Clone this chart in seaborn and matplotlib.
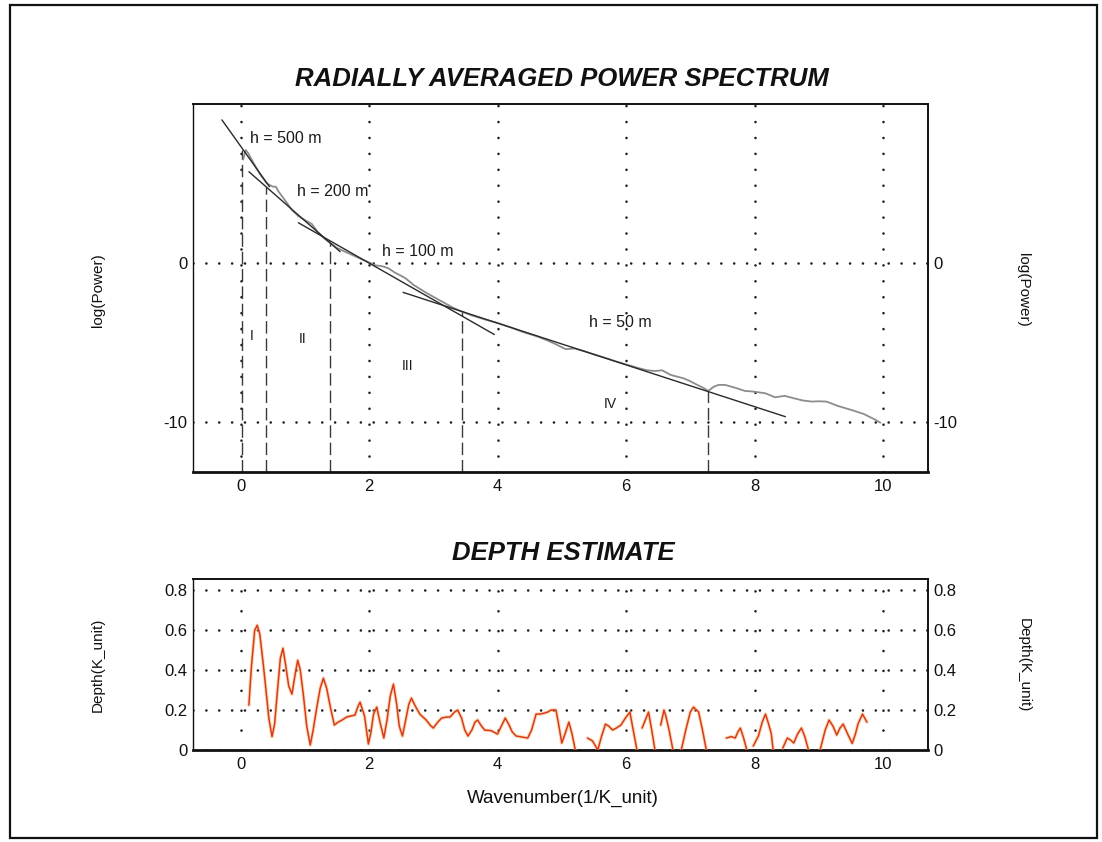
import numpy as np
import pandas as pd
import matplotlib
matplotlib.use("Agg")
import matplotlib.pyplot as plt
import seaborn as sns
from matplotlib.patches import Rectangle
from matplotlib.ticker import FixedLocator, FixedFormatter

# ---------------- data ----------------
# radially averaged power spectrum (wavenumber, log power)
spec_k = [0.04, 0.08, 0.12, 0.20, 0.30, 0.41, 0.50, 0.55, 0.59, 0.70, 0.80, 0.90, 1.00,
          1.11, 1.20, 1.30, 1.40, 1.50, 1.68, 1.85, 1.99, 2.10, 2.20, 2.30, 2.40, 2.56,
          2.70, 2.90, 3.10, 3.30, 3.44, 3.60, 3.80, 4.00, 4.20, 4.40, 4.60, 4.78, 4.90,
          5.06, 5.20, 5.35, 5.50, 5.70, 5.85, 6.00, 6.20, 6.33, 6.45, 6.56, 6.70, 6.89,
          6.98, 7.10, 7.20, 7.28, 7.36, 7.44, 7.54, 7.70, 7.85, 7.98, 8.17, 8.32, 8.47,
          8.60, 8.75, 8.89, 9.00, 9.12, 9.30, 9.51, 9.70, 9.85, 9.96]
spec_p = [6.5, 7.1, 6.9, 6.3, 5.6, 5.0, 4.8, 4.8, 4.5, 3.9, 3.33, 2.95, 2.7,
          2.45, 1.95, 1.55, 1.24, 0.95, 0.61, 0.3, 0.05, -0.15, -0.2, -0.33, -0.6, -0.94,
          -1.4, -1.9, -2.35, -2.8, -3.05, -3.3, -3.55, -3.78, -4.05, -4.35, -4.6, -4.88, -5.1,
          -5.42, -5.38, -5.55, -5.75, -6.0, -6.2, -6.38, -6.62, -6.75, -6.8, -6.75, -7.05, -7.25,
          -7.4, -7.65, -7.85, -8.05, -7.8, -7.67, -7.67, -7.85, -8.05, -8.09, -8.2, -8.45, -8.36,
          -8.5, -8.65, -8.72, -8.7, -8.72, -9.0, -9.25, -9.5, -9.8, -10.05]

# straight-line fits for each depth ensemble (end points)
fit_names = ["h = 500 m", "h = 200 m", "h = 100 m", "h = 50 m"]
fit_k0 = [-0.29, 0.13, 0.90, 2.53]
fit_p0 = [9.00, 5.74, 2.53, -1.85]
fit_k1 = [0.45, 1.55, 3.95, 8.48]
fit_p1 = [4.80, 0.71, -4.50, -9.67]
fit_label_k = [0.15, 0.875, 2.20, 5.42]
fit_label_p = [7.80, 4.50, 0.73, -3.75]

# segment boundaries (wavenumber, log power where they meet the spectrum)
bound_k = [0.03, 0.39, 1.40, 3.44, 7.28]
bound_p = [7.1, 4.75, 1.24, -3.05, -8.05]

# zone labels
zone_names = ["I", "II", "III", "IV"]
zone_k = [0.18, 0.96, 2.60, 5.75]
zone_p = [-4.6, -4.8, -6.5, -8.9]

# depth estimate, split into the pieces that are drawn
depth_segments = [
    ([0.13, 0.17, 0.22, 0.26, 0.30, 0.35, 0.39, 0.44, 0.49, 0.53, 0.57, 0.62, 0.66, 0.70,
      0.75, 0.80, 0.85, 0.89, 0.93, 0.98, 1.03, 1.085, 1.13, 1.19, 1.24, 1.29, 1.34, 1.395,
      1.46, 1.52, 1.58, 1.65, 1.71, 1.78, 1.83, 1.86, 1.90, 1.93, 1.99, 2.03, 2.07, 2.12,
      2.17, 2.23, 2.28, 2.33, 2.38, 2.43, 2.47, 2.52, 2.57, 2.62, 2.66, 2.72, 2.79, 2.89,
      2.95, 3.00, 3.07, 3.13, 3.20, 3.26, 3.33, 3.38, 3.44, 3.49, 3.54, 3.60, 3.65, 3.69,
      3.75, 3.80, 3.90, 4.00, 4.06, 4.12, 4.18, 4.23, 4.29, 4.38, 4.47, 4.53, 4.60, 4.66,
      4.73, 4.78, 4.83, 4.91, 4.95, 5.00, 5.05, 5.11, 5.16, 5.21],
     [0.225, 0.42, 0.60, 0.625, 0.58, 0.44, 0.32, 0.16, 0.067, 0.13, 0.28, 0.46, 0.51, 0.43,
      0.32, 0.28, 0.38, 0.45, 0.40, 0.27, 0.12, 0.025, 0.10, 0.22, 0.31, 0.36, 0.31, 0.22,
      0.125, 0.14, 0.15, 0.165, 0.17, 0.175, 0.22, 0.24, 0.20, 0.17, 0.03, 0.09, 0.18, 0.215,
      0.14, 0.06, 0.15, 0.27, 0.33, 0.23, 0.12, 0.07, 0.15, 0.23, 0.26, 0.22, 0.18, 0.15,
      0.125, 0.11, 0.14, 0.16, 0.165, 0.165, 0.19, 0.20, 0.16, 0.10, 0.07, 0.10, 0.14, 0.15,
      0.12, 0.10, 0.097, 0.08, 0.12, 0.16, 0.125, 0.09, 0.07, 0.065, 0.06, 0.10, 0.18, 0.18,
      0.185, 0.19, 0.20, 0.20, 0.13, 0.035, 0.08, 0.14, 0.08, 0.0]),
    ([5.40, 5.48, 5.56, 5.62, 5.68, 5.73, 5.79, 5.85, 5.92, 5.99, 6.06, 6.10, 6.17],
     [0.06, 0.045, 0.0, 0.07, 0.13, 0.12, 0.10, 0.11, 0.125, 0.16, 0.19, 0.12, 0.0]),
    ([6.25, 6.30, 6.35, 6.40, 6.45], [0.11, 0.15, 0.19, 0.10, 0.0]),
    ([6.54, 6.59, 6.62, 6.67, 6.73], [0.125, 0.20, 0.17, 0.10, 0.0]),
    ([6.86, 6.93, 7.00, 7.05, 7.13, 7.19, 7.25], [0.0, 0.10, 0.19, 0.215, 0.19, 0.10, 0.0]),
    ([7.56, 7.64, 7.70, 7.74, 7.78, 7.83, 7.88], [0.06, 0.067, 0.06, 0.09, 0.11, 0.06, 0.0]),
    ([7.98, 8.06, 8.12, 8.17, 8.21, 8.26, 8.29], [0.02, 0.07, 0.14, 0.18, 0.14, 0.083, 0.0]),
    ([8.44, 8.51, 8.56, 8.61, 8.67, 8.73, 8.78, 8.84],
     [0.01, 0.06, 0.05, 0.035, 0.08, 0.11, 0.07, 0.0]),
    ([9.02, 9.10, 9.16, 9.22, 9.28, 9.33, 9.38, 9.45, 9.52, 9.57, 9.61, 9.68, 9.75],
     [0.0, 0.10, 0.15, 0.12, 0.075, 0.11, 0.13, 0.08, 0.033, 0.08, 0.13, 0.18, 0.14]),
]

k_ticks = [0, 2, 4, 6, 8, 10]
p_ticks = [0, -10]
d_ticks = [0, 0.2, 0.4, 0.6, 0.8]
d_tick_labels = ["0", "0.2", "0.4", "0.6", "0.8"]

# ---------------- style ----------------
sns.set_theme(style="white")
plt.rcParams["font.family"] = ["Liberation Sans", "DejaVu Sans"]

W, H = 1102, 842
fig = plt.figure(figsize=(W / 100, H / 100), dpi=100)
fig.patch.set_facecolor("white")


def fx(px):
    return px / W


def fy(py):
    return 1 - py / H


ax1 = fig.add_axes([fx(193), fy(472), fx(928) - fx(193), fy(104) - fy(472)])
ax2 = fig.add_axes([fx(193), fy(750), fx(928) - fx(193), fy(579) - fy(750)])

XLIM = (-0.74, 10.70)
dot = dict(color="#1e1e1e", linewidth=1.9, dash_capstyle="round")


def style_axes(ax, ylim, yticks, ylabels, vdot, hdot):
    ax.set_xlim(*XLIM)
    ax.set_ylim(*ylim)
    ax.set_facecolor("white")
    ax.xaxis.set_major_locator(FixedLocator(k_ticks))
    ax.xaxis.set_major_formatter(FixedFormatter([str(t) for t in k_ticks]))
    ax.yaxis.set_major_locator(FixedLocator(yticks))
    ax.yaxis.set_major_formatter(FixedFormatter(ylabels))
    ax.xaxis.grid(True, linestyle=(0, (0.01, vdot)), **dot)
    ax.yaxis.grid(True, linestyle=(0, (0.01, hdot)), **dot)
    ax.set_axisbelow(True)
    ax.tick_params(axis="both", length=0, labelsize=12, colors="#111111")
    ax.tick_params(axis="y", pad=4, labelleft=True, labelright=True)
    ax.tick_params(axis="x", pad=5)
    for side, sp in ax.spines.items():
        sp.set_visible(True)
        sp.set_color("#111111")
        sp.set_linewidth(1.0)
    ax.spines["bottom"].set_linewidth(2.0)
    ax.spines["top"].set_linewidth(1.4)
    ax.spines["right"].set_linewidth(1.4)
    ax.set_xlabel("")
    ax.set_ylabel("")


style_axes(ax1, (-13.15, 10.0), p_ticks, ["0", "-10"], 11.45 / 1.9, 9.25 / 1.9)
style_axes(ax2, (0.0, 0.857), d_ticks, d_tick_labels, 14.3 / 1.9, 9.25 / 1.9)

# ---------------- power spectrum panel ----------------
spec_df = pd.DataFrame({"k": spec_k, "p": spec_p})
sns.lineplot(data=spec_df, x="k", y="p", ax=ax1, color="#8c8c8c", linewidth=1.3,
             sort=False, zorder=3)

fit_df = pd.DataFrame({
    "k": fit_k0 + fit_k1,
    "p": fit_p0 + fit_p1,
    "fit": fit_names + fit_names,
})
sns.lineplot(data=fit_df, x="k", y="p", units="fit", estimator=None, ax=ax1,
             color="#2a2a2a", linewidth=1.0, zorder=4)

ax1.vlines(bound_k, ax1.get_ylim()[0], bound_p, colors="#3a3a3a", linewidth=1.0,
           linestyles=(0, (9, 3.5)), zorder=2)

for name, k, p in zip(fit_names, fit_label_k, fit_label_p):
    ax1.text(k, p, name, fontsize=11.5, color="#1a1a1a", ha="left", va="center", zorder=5)
for name, k, p in zip(zone_names, zone_k, zone_p):
    ax1.text(k, p, name, fontsize=10, color="#1a1a1a", ha="center", va="center", zorder=5)

ax1.set_xlabel("")
ax1.set_ylabel("")

# ---------------- depth panel ----------------
rows = []
for i, (ks, ds) in enumerate(depth_segments):
    for k, d in zip(ks, ds):
        rows.append({"k": k, "d": d, "seg": i})
depth_df = pd.DataFrame(rows)
sns.lineplot(data=depth_df, x="k", y="d", units="seg", estimator=None, ax=ax2,
             color="#f2b060", linewidth=2.6, alpha=0.45, zorder=3)
sns.lineplot(data=depth_df, x="k", y="d", units="seg", estimator=None, ax=ax2,
             color="#d93a1c", linewidth=1.1, zorder=4)
ax2.set_xlabel("")
ax2.set_ylabel("")

# ---------------- titles and labels ----------------
title_kw = dict(fontsize=18.5, fontweight="bold", fontstyle="italic", color="#111111",
                ha="center", va="center")
fig.text(fx(562), fy(79), "RADIALLY AVERAGED POWER SPECTRUM", **title_kw)
fig.text(fx(563), fy(553), "DEPTH ESTIMATE", **title_kw)

lab_kw = dict(fontsize=11, color="#111111", ha="center", va="center")
fig.text(fx(98), fy(290), "log(Power)", rotation=90, **lab_kw)
fig.text(fx(1023), fy(290), "log(Power)", rotation=270, **lab_kw)
fig.text(fx(98), fy(665), "Depth(K_unit)", rotation=90, **lab_kw)
fig.text(fx(1024), fy(665), "Depth(K_unit)", rotation=270, **lab_kw)
fig.text(fx(563), fy(798), "Wavenumber(1/K_unit)", fontsize=13.5, color="#111111",
         ha="center", va="center")

# outer frame
fig.patches.append(Rectangle((fx(10), fy(838)), fx(1097) - fx(10), fy(5) - fy(838),
                             transform=fig.transFigure, fill=False,
                             edgecolor="#111111", linewidth=1.6))

fig.savefig("out.png", dpi=100, facecolor="white")
